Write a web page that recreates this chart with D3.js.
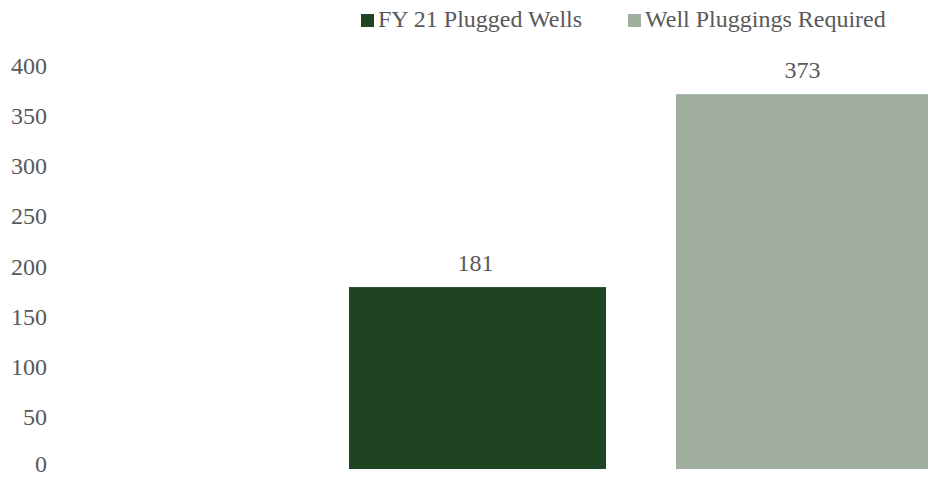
<!DOCTYPE html>
<html>
<head>
<meta charset="utf-8">
<script src="https://cdn.jsdelivr.net/npm/d3@7"></script>
<style>
  body { margin: 0; background: #fff; }
  svg text { font-family: "Liberation Serif", "Times New Roman", serif; fill: #595959; }
</style>
</head>
<body>
<div id="chart"></div>
<script>
const width = 928;
const height = 478;

const series = ["FY 21 Plugged Wells", "Well Pluggings Required"];
const values = [181, 373];
const colors = ["#1f4423", "#a0afa0"];
const yTicks = [0, 50, 100, 150, 200, 250, 300, 350, 400];

const svg = d3.select("#chart")
  .append("svg")
  .attr("width", width)
  .attr("height", height);

const x = d3.scaleBand()
  .domain(series)
  .range([349, 933])
  .paddingInner(0.214)
  .paddingOuter(0);

const y = d3.scaleLinear()
  .domain([0, 400])
  .range([469, 67]);

// y axis: labels only
const yAxis = d3.axisLeft(y).tickValues(yTicks).tickSize(0).tickPadding(0);
const gy = svg.append("g")
  .attr("transform", "translate(47,0)")
  .call(yAxis);
gy.select(".domain").remove();
gy.selectAll("text")
  .attr("font-size", 24)
  .attr("dy", d => d === 0 ? "0.1em" : "0.25em") // keep the 0 inside the frame
  .style("fill", "#595959");
gy.attr("font-family", null).attr("font-size", null);

// bars
svg.selectAll("rect.bar")
  .data(series)
  .join("rect")
  .attr("class", "bar")
  .attr("x", d => x(d))
  .attr("width", x.bandwidth())
  .attr("y", (d, i) => y(values[i]))
  .attr("height", (d, i) => y(0) - y(values[i]))
  .attr("fill", (d, i) => colors[i]);

// value labels
svg.selectAll("text.val")
  .data(series)
  .join("text")
  .attr("class", "val")
  .attr("x", d => x(d) + x.bandwidth() / 2 - 2)
  .attr("y", (d, i) => y(values[i]) - 16)
  .attr("text-anchor", "middle")
  .attr("font-size", 24)
  .text((d, i) => values[i]);

// legend
const legendX = [361, 628];
const legend = svg.selectAll("g.leg")
  .data(series)
  .join("g")
  .attr("class", "leg")
  .attr("transform", (d, i) => `translate(${legendX[i]},14)`);
legend.append("rect")
  .attr("width", 13)
  .attr("height", 13)
  .attr("fill", (d, i) => colors[i]);
legend.append("text")
  .attr("x", 17)
  .attr("y", 13)
  .attr("font-size", 24)
  .text(d => d);
</script>
</body>
</html>
